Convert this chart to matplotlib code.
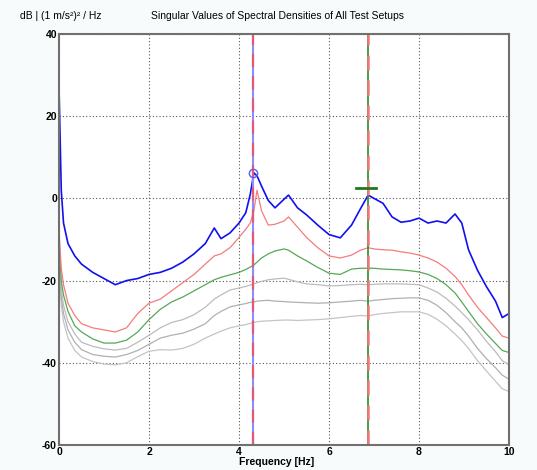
import numpy as np
import matplotlib
matplotlib.use("Agg")
from matplotlib import pyplot as plt

plt.rcParams['font.family'] = ['Liberation Sans', 'DejaVu Sans']
plt.rcParams['axes.unicode_minus'] = False

# frequency points [Hz]
freq = [0, 0.05, 0.1, 0.2, 0.35, 0.5, 0.75, 1.0, 1.25, 1.5, 1.75, 2.0, 2.25, 2.5, 2.75,
        3.0, 3.25, 3.45, 3.6, 3.8, 4.0, 4.15, 4.25, 4.33, 4.4, 4.5, 4.65, 4.8, 5.0, 5.1,
        5.3, 5.5, 5.75, 6.0, 6.25, 6.5, 6.7, 6.87, 7.0, 7.2, 7.4, 7.6, 7.8, 8.0, 8.2,
        8.4, 8.6, 8.8, 8.95, 9.1, 9.3, 9.5, 9.7, 9.85, 10.0]

# singular values [dB]
sv1 = [27, 2, -6, -11, -14, -16, -18, -19.5, -21, -20, -19.5, -18.5, -18, -17, -15.5,
       -13.5, -11, -7.2, -9.8, -8.4, -6, -3.5, 1, 6.2, 5.5, 3, -0.5, -2.3, -0.2, 0.8,
       -2.3, -4, -6.5, -8.8, -9.6, -6.5, -2.5, 0.8, 0, -1.2, -4.5, -5.8, -5.5, -4.8, -6,
       -5.5, -6, -3.8, -6, -12.5, -17.5, -21.5, -25, -29, -28]
sv2 = [-8, -17, -21, -25.5, -28.5, -30.5, -31.5, -32, -32.5, -31.5, -28, -25.5, -24.5, -22.5, -20.5,
       -18.5, -16, -14, -13.5, -12, -9.5, -7.5, -6, -3, 2, -3, -6.5, -6.3, -5.5, -4.5,
       -7, -9.5, -12, -14, -14.5, -13.8, -12.6, -12, -12.3, -12.5, -12.6, -13, -13.3, -13.8, -14.5,
       -15.5, -17, -19, -21, -23.5, -26.5, -29, -31.5, -33.5, -34]
sv3 = [-10, -20, -23.5, -27.5, -31, -32.5, -34.2, -35.2, -35.2, -34.5, -32.5, -29.5, -27, -25.2, -24,
       -22.5, -21, -19.8, -19.2, -18.6, -18, -17.3, -16.7, -16.2, -15.5, -14.5, -13.5, -12.8, -12.3, -12.6,
       -14, -15.2, -16.8, -18.2, -18.5, -17.2, -17, -17, -17, -17.2, -17.3, -17.4, -17.6, -17.9, -18.5,
       -19.5, -21, -23, -25.2, -27.5, -30.5, -33, -35.3, -37, -37.5]
sv4 = [-12, -22, -26, -30, -33, -35, -36, -36.6, -36.9, -36.5, -35, -33.3, -31.5, -30.2, -29.5,
       -28.3, -26.5, -24.5, -23.5, -22.3, -21.8, -21.4, -21.1, -20.8, -20.5, -20.2, -19.8, -19.6, -19.4, -19.7,
       -20.3, -20.8, -21, -21.3, -21.2, -21, -20.9, -21, -20.9, -20.8, -20.8, -20.8, -20.9, -21, -21.8,
       -22.8, -24.3, -26.2, -27.8, -29.5, -32, -34.8, -37.3, -39.5, -40.5]
sv5 = [-14, -24, -28, -32, -35, -36.8, -38, -38.4, -38.6, -38, -37, -35.5, -34, -33.3, -32.8,
       -31.8, -30.5, -28.5, -27.5, -26.4, -25.9, -25.6, -25.3, -25.2, -25, -24.9, -24.8, -25, -25.1, -25.2,
       -25.3, -25.4, -25.5, -25.4, -25.2, -25, -24.8, -25, -24.8, -24.6, -24.4, -24.3, -24.2, -24.2, -24.8,
       -26, -27.8, -30, -31.5, -33.5, -36.5, -39, -41.2, -43, -44]
sv6 = [-16, -26, -30, -34, -37, -38.6, -39.7, -40.3, -40.5, -40, -38.5, -37.2, -36.8, -36.9, -36.5,
       -35.5, -34, -33, -32.3, -31.5, -31, -30.7, -30.4, -30.2, -30, -29.9, -29.8, -29.7, -29.6, -29.6,
       -29.7, -29.6, -29.5, -29.3, -29, -28.7, -28.5, -28.6, -28.3, -28, -27.8, -27.6, -27.6, -27.6, -28.2,
       -29.4, -31, -33, -34.6, -36.5, -39.5, -42, -44.5, -46.3, -47]

# picked modes
mode_freq = [4.32, 6.87]
peak1 = (4.3, 6.2)
peak2 = (6.82, 2.5)

fig = plt.figure(figsize=(5.37, 4.70), dpi=100, facecolor='#f8fbfb')
ax = fig.add_axes([0.1099, 0.0532, 0.838, 0.8745])
ax.set_facecolor('white')

ax.plot(freq, sv6, color='#c4c4c4', lw=0.9)
ax.plot(freq, sv5, color='#b0b0b0', lw=0.9)
ax.plot(freq, sv4, color='#bcbcbc', lw=0.9)
ax.plot(freq, sv3, color='#55a855', lw=0.9)
ax.plot(freq, sv2, color='#f47c7c', lw=0.9)
ax.plot(freq, sv1, color='#1010f0', lw=1.2)

# mode lines
ax.axvline(mode_freq[0], color='#8c8cff', lw=1.5)
ax.axvline(mode_freq[0], color='#e05a7a', lw=1.6, ls=(0, (6, 4)))
ax.axvline(mode_freq[1], color='#2e8a2e', lw=1.2)
ax.axvline(mode_freq[1], color='#f07878', lw=1.8, ls=(0, (6, 4)))

ax.plot(peak1[0], peak1[1], 'o', mfc='none', mec='#5a5aff', ms=6, mew=1)
ax.plot([peak2[0] - 0.22, peak2[0] + 0.22], [peak2[1], peak2[1]], color='#1e7a1e', lw=2)

ax.set_xlim(0, 10)
ax.set_ylim(-60, 40)
ax.set_xticks([0, 2, 4, 6, 8, 10])
ax.set_yticks([-60, -40, -20, 0, 20, 40])
ax.grid(True, color='#555555', ls=(0, (1, 2)), lw=0.8)
ax.tick_params(length=0, pad=1.5, labelsize=7.5)
for lab in ax.get_xticklabels() + ax.get_yticklabels():
    lab.set_fontweight('bold')
for s in ax.spines.values():
    s.set_color('#707070')
    s.set_linewidth(1.5)

fig.text(0.516, 0.016, 'Frequency [Hz]', ha='center', va='center', fontsize=7.5, fontweight='bold')
fig.text(0.516, 0.966, 'Singular Values of Spectral Densities of All Test Setups',
         ha='center', va='center', fontsize=7.5)
fig.text(0.037, 0.966, 'dB | (1 m/s\u00b2)\u00b2 / Hz', ha='left', va='center', fontsize=7.5)

fig.savefig('out.png', dpi=100, facecolor=fig.get_facecolor())
